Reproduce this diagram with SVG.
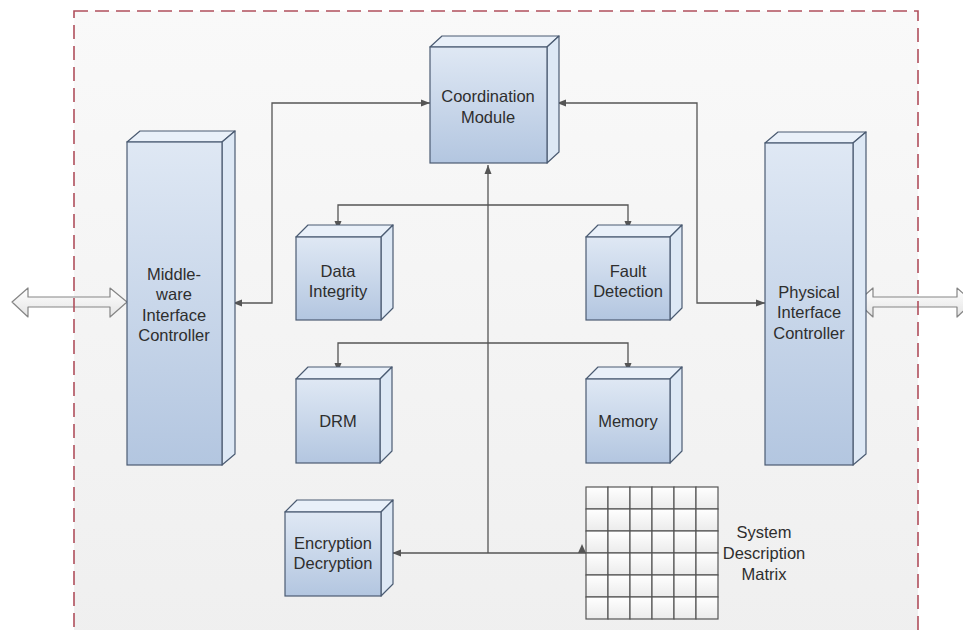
<svg xmlns="http://www.w3.org/2000/svg" width="963" height="630" viewBox="0 0 963 630">
  <defs>
    <linearGradient id="bgGrad" x1="0" y1="0" x2="0" y2="1">
      <stop offset="0" stop-color="#f9f9f9"/>
      <stop offset="1" stop-color="#efefef"/>
    </linearGradient>
    <linearGradient id="frontGrad" x1="0" y1="0" x2="0" y2="1">
      <stop offset="0" stop-color="#dfe8f4"/>
      <stop offset="1" stop-color="#b3c6e0"/>
    </linearGradient>
    <linearGradient id="cellGrad" x1="0" y1="0" x2="0" y2="1">
      <stop offset="0" stop-color="#ffffff"/>
      <stop offset="1" stop-color="#ebebeb"/>
    </linearGradient>
    <linearGradient id="blockGrad" x1="0" y1="0" x2="0" y2="1">
      <stop offset="0" stop-color="#ffffff"/>
      <stop offset="1" stop-color="#e4e4e4"/>
    </linearGradient>
    <marker id="head" markerUnits="userSpaceOnUse" markerWidth="10" markerHeight="8" refX="9" refY="4" orient="auto-start-reverse">
      <path d="M0,0.5 L9,4 L0,7.5 z" fill="#555"/>
    </marker>
    <style>
      .front { fill: url(#frontGrad); stroke: #4b5b72; stroke-width: 1.2; }
      .top { fill: #e9f0f9; stroke: #4b5b72; stroke-width: 1.2; stroke-linejoin: round; }
      .side { fill: #dde8f5; stroke: #4b5b72; stroke-width: 1.2; stroke-linejoin: round; }
      .label { font-family: "Liberation Sans", Arial, sans-serif; font-size: 16.5px; fill: #2e2e2e; text-anchor: middle; }
      .wire { fill: none; stroke: #555; stroke-width: 1.3; }
      .block { fill: url(#blockGrad); stroke: #858585; stroke-width: 1.2; stroke-linejoin: round; }
      .cell { fill: url(#cellGrad); stroke: #555; stroke-width: 1.2; }
    </style>
  </defs>

  <!-- canvas and system boundary fill -->
  <rect x="0" y="0" width="963" height="630" fill="#ffffff"/>
  <rect x="74" y="11" width="844" height="640" fill="url(#bgGrad)"/>

  <!-- external block arrows -->
  <g id="ext-left">
    <path class="block" d="M12,302 L28,288 L28,297 L110,297 L110,288 L127,302 L110,317 L110,307 L28,307 L28,317 Z"/>
  </g>
  <g id="ext-right">
    <path class="block" d="M857,302 L873,288 L873,297 L957,297 L957,288 L973,302 L957,317 L957,307 L873,307 L873,317 Z"/>
  </g>

  <!-- boundary -->
  <rect x="74" y="11" width="844" height="640" fill="none" stroke="#b04f5c" stroke-width="1.6" stroke-dasharray="14,7"/>

  <!-- connectors -->
  <g id="connectors">
    <path class="wire" d="M233,303 H272 V103 H430" marker-start="url(#head)" marker-end="url(#head)"/>
    <path class="wire" d="M557,103 H697 V303 H765" marker-start="url(#head)" marker-end="url(#head)"/>
    <path class="wire" d="M488,553 V165" marker-end="url(#head)"/>
    <path class="wire" d="M338,230 V205 H628 V230" marker-start="url(#head)" marker-end="url(#head)"/>
    <path class="wire" d="M338,372 V343 H628 V372" marker-start="url(#head)" marker-end="url(#head)"/>
    <path class="wire" d="M392,553 H586" marker-start="url(#head)"/>
    <path d="M582,544 L586,553 L578,553 Z" fill="#555"/>
  </g>

  <!-- Coordination Module -->
  <g id="coordination">
    <path class="top" d="M430,47 L442,36 L559,36 L547,47 Z"/>
    <path class="side" d="M547,47 L559,36 L559,152 L547,163 Z"/>
    <rect class="front" x="430" y="47" width="117" height="116"/>
    <text class="label" x="488" y="102">Coordination</text>
    <text class="label" x="488" y="123">Module</text>
  </g>

  <!-- Middle-ware Interface Controller -->
  <g id="middleware">
    <path class="top" d="M127,142 L140,131 L235,131 L222,142 Z"/>
    <path class="side" d="M222,142 L235,131 L235,454 L222,465 Z"/>
    <rect class="front" x="127" y="142" width="95" height="323"/>
    <text class="label" x="174" y="280">Middle-</text>
    <text class="label" x="174" y="300">ware</text>
    <text class="label" x="174" y="321">Interface</text>
    <text class="label" x="174" y="341">Controller</text>
  </g>

  <!-- Physical Interface Controller -->
  <g id="physical">
    <path class="top" d="M765,143 L778,132 L866,132 L853,143 Z"/>
    <path class="side" d="M853,143 L866,132 L866,454 L853,465 Z"/>
    <rect class="front" x="765" y="143" width="88" height="322"/>
    <text class="label" x="809" y="298">Physical</text>
    <text class="label" x="809" y="318">Interface</text>
    <text class="label" x="809" y="339">Controller</text>
  </g>

  <!-- Data Integrity -->
  <g id="data-integrity">
    <path class="top" d="M296,237 L308,225 L393,225 L381,237 Z"/>
    <path class="side" d="M381,237 L393,225 L393,308 L381,320 Z"/>
    <rect class="front" x="296" y="237" width="85" height="83"/>
    <text class="label" x="338" y="277">Data</text>
    <text class="label" x="338" y="297">Integrity</text>
  </g>

  <!-- Fault Detection -->
  <g id="fault-detection">
    <path class="top" d="M586,237 L598,225 L682,225 L670,237 Z"/>
    <path class="side" d="M670,237 L682,225 L682,308 L670,320 Z"/>
    <rect class="front" x="586" y="237" width="84" height="83"/>
    <text class="label" x="628" y="277">Fault</text>
    <text class="label" x="628" y="297">Detection</text>
  </g>

  <!-- DRM -->
  <g id="drm">
    <path class="top" d="M296,379 L308,367 L392,367 L380,379 Z"/>
    <path class="side" d="M380,379 L392,367 L392,451 L380,463 Z"/>
    <rect class="front" x="296" y="379" width="84" height="84"/>
    <text class="label" x="338" y="427">DRM</text>
  </g>

  <!-- Memory -->
  <g id="memory">
    <path class="top" d="M586,379 L598,367 L682,367 L670,379 Z"/>
    <path class="side" d="M670,379 L682,367 L682,451 L670,463 Z"/>
    <rect class="front" x="586" y="379" width="84" height="84"/>
    <text class="label" x="628" y="427">Memory</text>
  </g>

  <!-- Encryption / Decryption -->
  <g id="encryption">
    <path class="top" d="M285,512 L297,500 L393,500 L381,512 Z"/>
    <path class="side" d="M381,512 L393,500 L393,584 L381,596 Z"/>
    <rect class="front" x="285" y="512" width="96" height="84"/>
    <text class="label" x="333" y="549">Encryption</text>
    <text class="label" x="333" y="569">Decryption</text>
  </g>

  <!-- System Description Matrix (6 x 6 grid) -->
  <g id="matrix">
    <rect class="cell" x="586" y="487" width="22" height="22"/>
    <rect class="cell" x="608" y="487" width="22" height="22"/>
    <rect class="cell" x="630" y="487" width="22" height="22"/>
    <rect class="cell" x="652" y="487" width="22" height="22"/>
    <rect class="cell" x="674" y="487" width="22" height="22"/>
    <rect class="cell" x="696" y="487" width="22" height="22"/>
    <rect class="cell" x="586" y="509" width="22" height="22"/>
    <rect class="cell" x="608" y="509" width="22" height="22"/>
    <rect class="cell" x="630" y="509" width="22" height="22"/>
    <rect class="cell" x="652" y="509" width="22" height="22"/>
    <rect class="cell" x="674" y="509" width="22" height="22"/>
    <rect class="cell" x="696" y="509" width="22" height="22"/>
    <rect class="cell" x="586" y="531" width="22" height="22"/>
    <rect class="cell" x="608" y="531" width="22" height="22"/>
    <rect class="cell" x="630" y="531" width="22" height="22"/>
    <rect class="cell" x="652" y="531" width="22" height="22"/>
    <rect class="cell" x="674" y="531" width="22" height="22"/>
    <rect class="cell" x="696" y="531" width="22" height="22"/>
    <rect class="cell" x="586" y="553" width="22" height="22"/>
    <rect class="cell" x="608" y="553" width="22" height="22"/>
    <rect class="cell" x="630" y="553" width="22" height="22"/>
    <rect class="cell" x="652" y="553" width="22" height="22"/>
    <rect class="cell" x="674" y="553" width="22" height="22"/>
    <rect class="cell" x="696" y="553" width="22" height="22"/>
    <rect class="cell" x="586" y="575" width="22" height="22"/>
    <rect class="cell" x="608" y="575" width="22" height="22"/>
    <rect class="cell" x="630" y="575" width="22" height="22"/>
    <rect class="cell" x="652" y="575" width="22" height="22"/>
    <rect class="cell" x="674" y="575" width="22" height="22"/>
    <rect class="cell" x="696" y="575" width="22" height="22"/>
    <rect class="cell" x="586" y="597" width="22" height="22"/>
    <rect class="cell" x="608" y="597" width="22" height="22"/>
    <rect class="cell" x="630" y="597" width="22" height="22"/>
    <rect class="cell" x="652" y="597" width="22" height="22"/>
    <rect class="cell" x="674" y="597" width="22" height="22"/>
    <rect class="cell" x="696" y="597" width="22" height="22"/>
    <text class="label" x="764" y="538">System</text>
    <text class="label" x="764" y="559">Description</text>
    <text class="label" x="764" y="580">Matrix</text>
  </g>
</svg>
